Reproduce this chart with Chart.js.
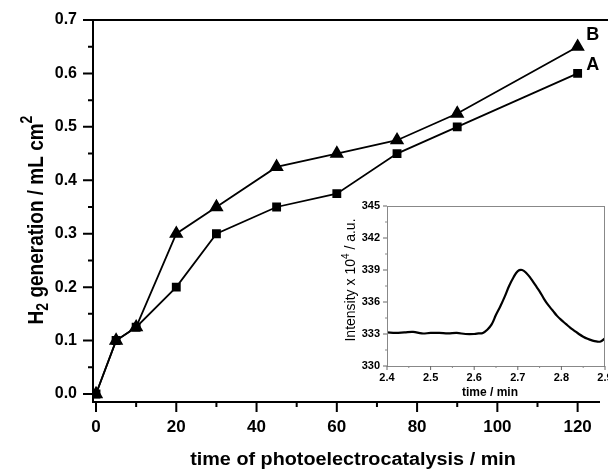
<!DOCTYPE html>
<html>
<head>
<meta charset="utf-8">
<script src="https://cdn.jsdelivr.net/npm/chart.js@4.4.0/dist/chart.umd.min.js"></script>
<style>
body { margin: 0; background: #fff; }
#wrap { position: relative; width: 608px; height: 469px; }
#main { position: absolute; left: 0; top: 0; }
#inset { position: absolute; left: 330px; top: 200px; }
</style>
</head>
<body>
<div id="wrap">
  <canvas id="main" width="608" height="469"></canvas>
  <canvas id="inset" width="278" height="205"></canvas>
</div>
<script>
// main plot: H2 generation vs time
const timeMin = [0, 5, 10, 20, 30, 45, 60, 75, 90, 120];
const h2A = [0, 0.1, 0.125, 0.2, 0.3, 0.35, 0.375, 0.45, 0.5, 0.6];
const h2B = [0, 0.1, 0.125, 0.3, 0.35, 0.425, 0.45, 0.475, 0.525, 0.65];
const xMajor = [0, 20, 40, 60, 80, 100, 120];
const xMinor = [10, 30, 50, 70, 90, 110];
const yMajor = [0, 0.1, 0.2, 0.3, 0.4, 0.5, 0.6, 0.7];
const yMinor = [0.05, 0.15, 0.25, 0.35, 0.45, 0.55, 0.65];

// inset: chromatogram peak
const insetTime = [2.40, 2.42, 2.44, 2.46, 2.48, 2.50, 2.52, 2.54, 2.56, 2.58, 2.60, 2.61,
  2.62, 2.63, 2.64, 2.65, 2.66, 2.67, 2.68, 2.69, 2.70, 2.71, 2.72, 2.73, 2.74, 2.75,
  2.76, 2.77, 2.78, 2.79, 2.80, 2.81, 2.82, 2.83, 2.84, 2.85, 2.86, 2.87, 2.88, 2.89, 2.90];
const insetIntensity = [333.15, 333.1, 333.15, 333.2, 333.05, 333.1, 333.1, 333.05, 333.1, 333.0, 333.0, 333.05,
  333.1, 333.4, 333.9, 334.8, 335.6, 336.5, 337.5, 338.3, 338.9, 339.0, 338.7, 338.2, 337.6, 337.0,
  336.3, 335.7, 335.2, 334.7, 334.3, 333.95, 333.6, 333.3, 333.0, 332.75, 332.55, 332.4, 332.3, 332.3, 332.6];
const insetXMajor = [2.4, 2.5, 2.6, 2.7, 2.8, 2.9];
const insetXMinor = [2.45, 2.55, 2.65, 2.75, 2.85];
const insetYMajor = [330, 333, 336, 339, 342, 345];
const insetYMinor = [331.5, 334.5, 337.5, 340.5, 343.5];

const FONT = '"Liberation Sans", Arial, sans-serif';

function noPad(s) {
  s.paddingLeft = 0; s.paddingRight = 0; s.paddingTop = 0; s.paddingBottom = 0;
}

function drawTickMarks(ctx, chart, xs, ys, len, width, color) {
  const xs_ = chart.scales.x, ys_ = chart.scales.y;
  const a = chart.chartArea;
  ctx.strokeStyle = color;
  ctx.lineWidth = width;
  ctx.beginPath();
  xs.forEach(v => {
    const p = xs_.getPixelForValue(v);
    ctx.moveTo(p, a.bottom);
    ctx.lineTo(p, a.bottom + len);
  });
  ys.forEach(v => {
    const p = ys_.getPixelForValue(v);
    ctx.moveTo(a.left, p);
    ctx.lineTo(a.left - len, p);
  });
  ctx.stroke();
}

const mainDecor = {
  id: 'mainDecor',
  afterDraw(chart) {
    const ctx = chart.ctx;
    const a = chart.chartArea;
    ctx.save();
    // top frame line
    ctx.strokeStyle = '#000';
    ctx.lineWidth = 2;
    ctx.beginPath();
    ctx.moveTo(a.left - 1, a.top);
    ctx.lineTo(chart.width, a.top);
    ctx.stroke();
    drawTickMarks(ctx, chart, xMajor, yMajor, 10, 2, '#000');
    drawTickMarks(ctx, chart, xMinor, yMinor, 5, 2, '#000');

    // series labels
    const xs = chart.scales.x, ys = chart.scales.y;
    ctx.fillStyle = '#000';
    ctx.font = 'bold 18px ' + FONT;
    ctx.textAlign = 'center';
    ctx.textBaseline = 'middle';
    const lastX = xs.getPixelForValue(timeMin[timeMin.length - 1]);
    ctx.fillText('B', lastX + 15, ys.getPixelForValue(h2B[h2B.length - 1]) - 12);
    ctx.fillText('A', lastX + 15, ys.getPixelForValue(h2A[h2A.length - 1]) - 8);

    // x title (slightly stretched like the original)
    ctx.save();
    ctx.translate(353, 460);
    ctx.scale(1.1, 1);
    ctx.font = 'bold 18px ' + FONT;
    ctx.fillText('time of photoelectrocatalysis / min', 0, 0);
    ctx.restore();

    // y title with sub/superscript
    ctx.save();
    ctx.translate(36, 220);
    ctx.rotate(-Math.PI / 2);
    ctx.scale(1, 1.2);
    ctx.textAlign = 'left';
    ctx.textBaseline = 'alphabetic';
    const big = 'bold 19px ' + FONT, small = 'bold 14px ' + FONT;
    const parts = [['H', big, 0], ['2', small, 4], [' generation / mL cm', big, 0], ['2', small, -9]];
    let total = 0;
    parts.forEach(p => { ctx.font = p[1]; total += ctx.measureText(p[0]).width; });
    let x = -total / 2;
    parts.forEach(p => {
      ctx.font = p[1];
      ctx.fillText(p[0], x, 6 + p[2]);
      x += ctx.measureText(p[0]).width;
    });
    ctx.restore();
    ctx.restore();
  }
};

new Chart(document.getElementById('main'), {
  type: 'line',
  data: {
    datasets: [{
      label: 'A',
      data: timeMin.map((t, i) => ({ x: t, y: h2A[i] })),
      borderColor: '#000',
      backgroundColor: '#000',
      borderWidth: 1.8,
      pointStyle: 'rect',
      pointRadius: 5,
      tension: 0
    }, {
      label: 'B',
      data: timeMin.map((t, i) => ({ x: t, y: h2B[i] })),
      borderColor: '#000',
      backgroundColor: '#000',
      borderWidth: 1.8,
      pointStyle: 'triangle',
      pointRadius: 6.5,
      tension: 0
    }]
  },
  options: {
    responsive: false,
    animation: false,
    devicePixelRatio: 1,
    layout: { padding: { top: 20, right: 0, left: 0, bottom: 0 } },
    plugins: { legend: { display: false }, tooltip: { enabled: false } },
    scales: {
      x: {
        type: 'linear',
        min: -0.75,
        max: 125.5,
        afterBuildTicks: s => { s.ticks = xMajor.map(v => ({ value: v })); },
        afterFit: s => { s.height = 67; noPad(s); },
        grid: { display: false, drawTicks: false },
        border: { display: true, color: '#000', width: 2 },
        ticks: { color: '#000', padding: 15, maxRotation: 0, font: { family: FONT, size: 17, weight: 'bold' } }
      },
      y: {
        min: -0.015,
        max: 0.7,
        afterBuildTicks: s => { s.ticks = yMajor.map(v => ({ value: v })); },
        afterFit: s => { s.width = 93; noPad(s); },
        grid: { display: false, drawTicks: false },
        border: { display: true, color: '#000', width: 2 },
        ticks: { color: '#000', padding: 16, font: { family: FONT, size: 16, weight: 'bold' },
          callback: v => v.toFixed(1) }
      }
    }
  },
  plugins: [mainDecor]
});

const insetDecor = {
  id: 'insetDecor',
  afterDraw(chart) {
    const ctx = chart.ctx;
    const a = chart.chartArea;
    ctx.save();
    ctx.strokeStyle = '#888';
    ctx.lineWidth = 1;
    ctx.strokeRect(a.left + 0.5, a.top + 0.5, a.right - a.left - 1, a.bottom - a.top);
    drawTickMarks(ctx, chart, insetXMajor, insetYMajor, 4, 1, '#666');
    drawTickMarks(ctx, chart, insetXMinor, insetYMinor, 2, 1, '#888');

    ctx.fillStyle = '#000';
    ctx.textAlign = 'center';
    ctx.textBaseline = 'middle';
    ctx.font = 'bold 12px ' + FONT;
    ctx.fillText('time / min', 160, 193);

    // y title with superscript
    ctx.translate(20, 80);
    ctx.rotate(-Math.PI / 2);
    ctx.textAlign = 'left';
    ctx.textBaseline = 'alphabetic';
    const big = '14px ' + FONT, small = '10px ' + FONT;
    const parts = [['Intensity x 10', big, 0], ['4', small, -6], [' / a.u.', big, 0]];
    let total = 0;
    parts.forEach(p => { ctx.font = p[1]; total += ctx.measureText(p[0]).width; });
    let x = -total / 2;
    parts.forEach(p => {
      ctx.font = p[1];
      ctx.fillText(p[0], x, 5 + p[2]);
      x += ctx.measureText(p[0]).width;
    });
    ctx.restore();
  }
};

new Chart(document.getElementById('inset'), {
  type: 'line',
  data: {
    datasets: [{
      data: insetTime.map((t, i) => ({ x: t, y: insetIntensity[i] })),
      borderColor: '#000',
      borderWidth: 2.2,
      pointRadius: 0,
      tension: 0.4
    }]
  },
  options: {
    responsive: false,
    animation: false,
    devicePixelRatio: 1,
    layout: { padding: { top: 6, right: 3, left: 0, bottom: 0 } },
    plugins: { legend: { display: false }, tooltip: { enabled: false } },
    scales: {
      x: {
        type: 'linear',
        min: 2.4,
        max: 2.9,
        afterBuildTicks: s => { s.ticks = insetXMajor.map(v => ({ value: v })); },
        afterFit: s => { s.height = 39; noPad(s); },
        grid: { display: false, drawTicks: false },
        border: { display: false },
        ticks: { color: '#000', padding: 5, maxRotation: 0, font: { family: FONT, size: 11, weight: 'bold' },
          callback: v => v.toFixed(1) }
      },
      y: {
        min: 330,
        max: 345,
        afterBuildTicks: s => { s.ticks = insetYMajor.map(v => ({ value: v })); },
        afterFit: s => { s.width = 57; noPad(s); },
        grid: { display: false, drawTicks: false },
        border: { display: false },
        ticks: { color: '#000', padding: 7, font: { family: FONT, size: 11, weight: 'bold' } }
      }
    }
  },
  plugins: [insetDecor]
});
</script>
</body>
</html>
